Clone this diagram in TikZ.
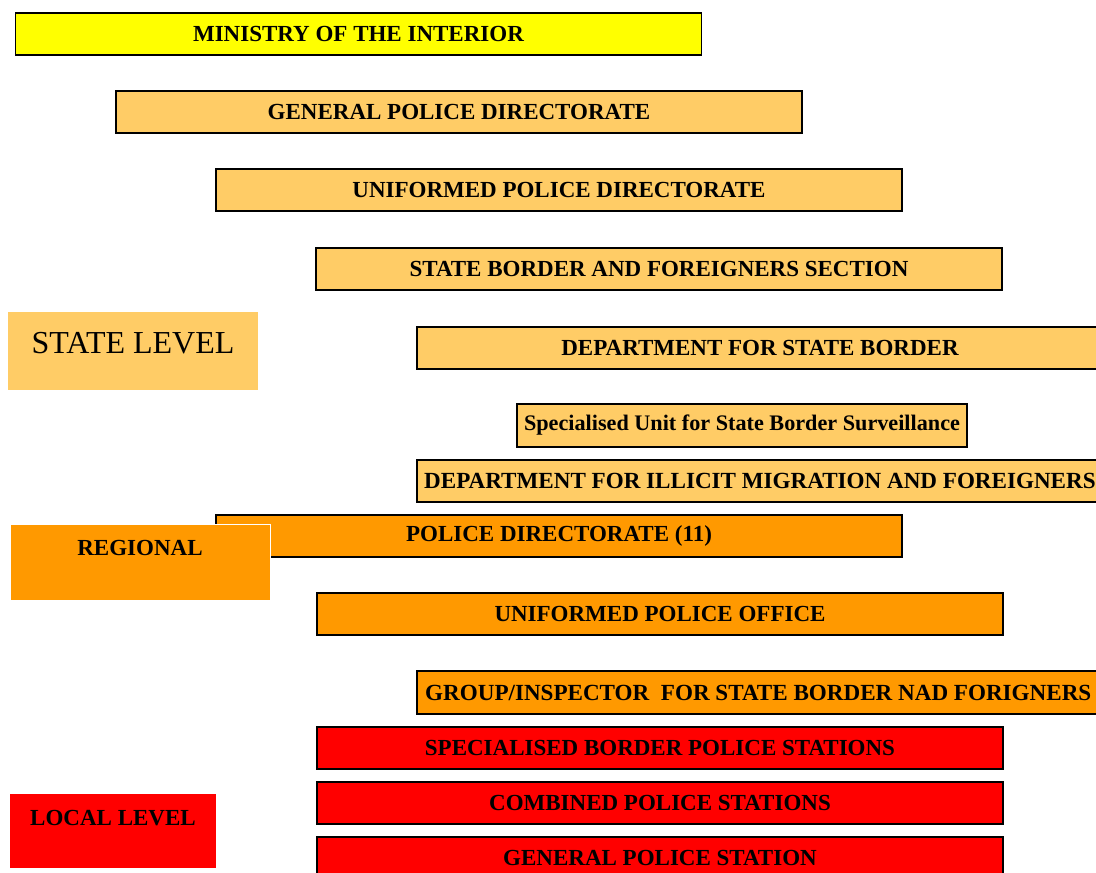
\documentclass[tikz,border=0pt]{standalone}
\usepackage{fontspec}
\setmainfont{Liberation Serif}
\definecolor{yel}{HTML}{FFFF00}
\definecolor{lor}{HTML}{FFCC66}
\definecolor{orn}{HTML}{FF9900}
\definecolor{rd}{HTML}{FF0000}
\begin{document}
\begin{tikzpicture}[x=1pt,y=-1pt,
  bx/.style={draw=black,line width=1.2pt,inner sep=0pt,minimum width=686pt,minimum height=42pt,
    font=\fontsize{23}{27}\selectfont\bfseries,text=black},
  lvl/.style={draw=none,inner sep=0pt},
  tx/.style={inner sep=0pt,font=\fontsize{23}{27}\selectfont\bfseries,text=black}]
\useasboundingbox (0,0) rectangle (1096,873);
\clip (0,0) rectangle (1096,873);
\fill[white] (0,0) rectangle (1096,873);
\node[bx,fill=yel] (min) at (358.5,34) {MINISTRY OF THE INTERIOR};
\node[bx,fill=lor] (gpd) at (459,112) {GENERAL POLICE DIRECTORATE};
\node[bx,fill=lor] (upd) at (559,190) {UNIFORMED POLICE DIRECTORATE};
\node[bx,fill=lor] (sbf) at (659,269) {STATE BORDER AND FOREIGNERS SECTION};
\node[bx,fill=lor] (dsb) at (760,348) {DEPARTMENT FOR STATE BORDER};
\node[bx,fill=lor,minimum width=450pt,minimum height=43pt,font=\fontsize{22.2}{26}\selectfont\bfseries] (spu) at (742,425.5) {Specialised Unit for State Border Surveillance};
\node[bx,fill=lor] (dim) at (760,481) {};
\node[tx,anchor=west,font=\fontsize{23.1}{27}\selectfont\bfseries] (dimt) at (424,481) {DEPARTMENT FOR ILLICIT MIGRATION AND FOREIGNERS};
\node[bx,fill=orn] (pd) at (559,536) {POLICE DIRECTORATE (11)};
\node[lvl,fill=orn,draw=white,line width=1pt,minimum width=260pt,minimum height=76pt] (reg) at (140,562) {};
\node[tx] (regt) at (140,548) {REGIONAL};
\node[bx,fill=orn] (upo) at (660,614) {UNIFORMED POLICE OFFICE};
\node[bx,fill=orn,minimum height=43pt] (grp) at (760,692.5) {};
\node[tx,anchor=west,font=\fontsize{23.1}{27}\selectfont\bfseries] (grpt) at (425,692.5) {GROUP/INSPECTOR\ \ FOR STATE BORDER NAD FORIGNERS};
\node[bx,fill=rd] (sbp) at (660,748) {SPECIALISED BORDER POLICE STATIONS};
\node[bx,fill=rd] (cps) at (660,803) {COMBINED POLICE STATIONS};
\node[bx,fill=rd] (gps) at (660,858) {};
\node[tx] (gpst) at (660,858) {GENERAL POLICE STATION};
\node[lvl,fill=rd,minimum width=206pt,minimum height=74pt] (loc) at (113,831) {};
\node[tx] (loct) at (113,818) {LOCAL LEVEL};
\node[lvl,fill=lor,minimum width=250pt,minimum height=78pt] (stl) at (133,351) {};
\node[inner sep=0pt,font=\fontsize{32}{36}\selectfont,text=black] (stlt) at (133,343) {STATE LEVEL};
\end{tikzpicture}
\end{document}
